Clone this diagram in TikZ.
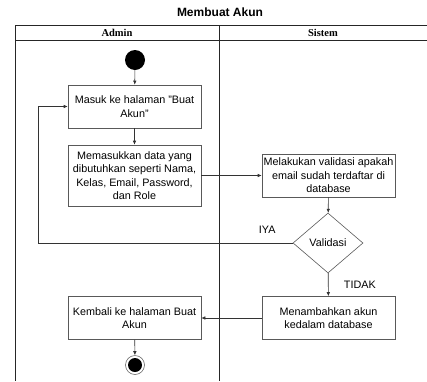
\documentclass[tikz,border=0pt]{standalone}
\usepackage{fontspec}
\setmainfont{Liberation Sans}
\newfontfamily\lanefont{Liberation Serif}
\usetikzlibrary{arrows.meta,shapes.geometric}

\tikzset{
    action/.style={draw=black!65, line width=0.6pt, minimum width=133pt, minimum height=43pt,
        text width=133pt, align=flush center, inner sep=0pt, font=\fontsize{10.8}{13.5}\selectfont},
    decision/.style={draw=black!65, line width=0.6pt, diamond, minimum width=70pt, minimum height=60pt,
        inner sep=0pt, font=\fontsize{10.8}{12}\selectfont},
    startnode/.style={circle, fill=black, minimum size=20pt, inner sep=0pt},
    endnode/.style={circle, draw=black!60, line width=0.6pt, minimum size=19pt, inner sep=0pt,
        path picture={\fill (path picture bounding box.center) circle (7pt);}},
    flow/.style={draw=black!80, line width=0.6pt, -{Latex[length=4pt,width=3.5pt]}},
    lane/.style={draw=black!85, line width=0.7pt},
    lanetitle/.style={font=\lanefont\bfseries\fontsize{10.5}{12}\selectfont},
    guard/.style={font=\fontsize{10.8}{12}\selectfont}
}

\begin{document}
\begin{tikzpicture}[x=1pt, y=-1pt]
    \useasboundingbox (0,0) rectangle (427,381);

    % judul dan swimlane
    \node[font=\bfseries\fontsize{12}{14}\selectfont] (judul) at (220,12) {Membuat Akun};
    \draw[lane] (15,25) -- (427,25);
    \draw[lane] (15,40) -- (427,40);
    \draw[lane] (15,25) -- (15,381);
    \draw[lane] (219,25) -- (219,381);
    \node[lanetitle] (admin) at (117,33) {Admin};
    \node[lanetitle] (sistem) at (323,33) {Sistem};

    % node aktivitas
    \node[startnode] (mulai) at (135,60) {};
    \node[action] (masuk) at (134.5,106.5) {Masuk ke halaman "Buat Akun"};
    \node[action, minimum height=61pt] (data) at (134.5,175.5)
        {Memasukkan data yang dibutuhkan seperti Nama, Kelas, Email, Password, dan Role};
    \node[action] (validasi) at (328.5,175.5) {Melakukan validasi apakah email sudah terdaftar di database};
    \node[decision] (cek) at (328,243) {Validasi};
    \node[action] (tambah) at (328.5,318) {Menambahkan akun\\kedalam database};
    \node[action] (kembali) at (134.5,318) {Kembali ke halaman Buat Akun};
    \node[endnode] (selesai) at (135,365) {};
    \coordinate (putar) at (38,243);

    % alur
    \draw[flow] (mulai) -- (masuk);
    \draw[flow] (masuk) -- (data);
    \draw[flow] (data) -- (validasi);
    \draw[flow] (validasi) -- (cek);
    \draw[flow] (cek.west) -- node[guard, pos=0.1, above=6pt] {IYA} (putar) |- (masuk.west);
    \draw[flow] (cek) -- node[guard, right=12pt] {TIDAK} (tambah);
    \draw[flow] (tambah) -- (kembali);
    \draw[flow] (kembali) -- (selesai);
\end{tikzpicture}
\end{document}
